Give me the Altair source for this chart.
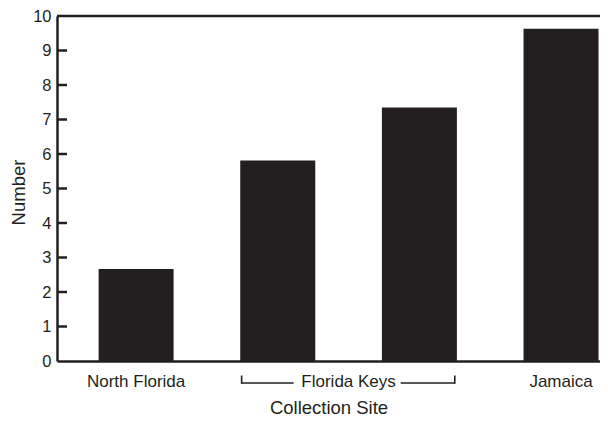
import altair as alt
import pandas as pd

# ---- data ----
bar_sites = ["North Florida", "Florida Keys", "Florida Keys", "Jamaica"]
bar_positions = [1, 2, 3, 4]
bar_values = [2.67, 5.81, 7.35, 9.63]

label_text = ["North Florida", "Florida Keys", "Jamaica"]
label_pos = [1, 2.5, 4]

y_tick_values = [1, 2, 3, 4, 5, 6, 7, 8, 9]
y_label_values = [0, 1, 2, 3, 4, 5, 6, 7, 8, 9, 10]
y_max = [10]

bracket_seg_start = [1.745, 2.868]
bracket_seg_end = [2.112, 3.25]
bracket_ends = [1.745, 3.25]

# ---- style ----
INK = "#231f20"
FONT = "Liberation Sans"
W, H = 543, 345
X_DOMAIN = [0.4768, 0.4768 + 543 / 144.3]

bars_df = pd.DataFrame({"site": bar_sites, "pos": bar_positions, "value": bar_values})
labels_df = pd.DataFrame({"label": label_text, "pos": label_pos})
ticks_df = pd.DataFrame({"value": y_tick_values})
top_df = pd.DataFrame({"value": y_max})
seg_df = pd.DataFrame({"pos": bracket_seg_start, "pos2": bracket_seg_end})
ends_df = pd.DataFrame({"pos": bracket_ends})

x_enc = alt.X(
    "pos:Q",
    scale=alt.Scale(domain=X_DOMAIN, nice=False, zero=False),
    axis=alt.Axis(
        title="Collection Site",
        labels=False,
        ticks=False,
        tickSize=0,
        grid=False,
        titleFontSize=18.5,
        titleY=46,
        titleBaseline="middle",
    ),
)
y_enc = alt.Y(
    "value:Q",
    scale=alt.Scale(domain=[0, 10], nice=False),
    axis=alt.Axis(
        title="Number",
        values=y_label_values,
        ticks=False,
        tickSize=0,
        grid=False,
        labelPadding=6,
        labelFontSize=16.5,
        titleFontSize=18.5,
        titleAngle=-90,
        titleX=-38.7,
        titleY=176,
        titleAlign="center",
        titleBaseline="middle",
    ),
)

bars = alt.Chart(bars_df).mark_bar(size=75, color=INK).encode(x=x_enc, y=y_enc)

ticks = alt.Chart(ticks_df).mark_rule(color=INK, strokeWidth=2.5).encode(
    y=y_enc, x=alt.value(0), x2=alt.value(10)
)

top_line = alt.Chart(top_df).mark_rule(color=INK, strokeWidth=2.5).encode(
    y=y_enc, x=alt.value(0), x2=alt.value(W + 10)
)

cat_labels = alt.Chart(labels_df).mark_text(
    font=FONT, fontSize=17, color=INK, baseline="middle", align="center"
).encode(x=x_enc, y=alt.value(H + 21), text="label:N")

segs = alt.Chart(seg_df).mark_rule(color=INK, strokeWidth=1.6).encode(
    x=x_enc, x2="pos2:Q", y=alt.value(H + 22)
)

ends = alt.Chart(ends_df).mark_rule(color=INK, strokeWidth=1.6).encode(
    x=x_enc, y=alt.value(H + 14.5), y2=alt.value(H + 22.8)
)

chart = (
    alt.layer(bars, ticks, top_line, segs, ends, cat_labels)
    .properties(
        width=W,
        height=H,
        autosize=alt.AutoSizeParams(type="none"),
        padding={"left": 49, "top": 8, "right": 0, "bottom": 56},
    )
    .configure_view(stroke=None)
    .configure_axis(
        domainColor=INK,
        domainWidth=2.5,
        labelColor=INK,
        titleColor=INK,
        labelFont=FONT,
        titleFont=FONT,
        titleFontWeight="normal",
    )
)

chart.save("out.html", embed_options={"renderer": "svg", "actions": False})
